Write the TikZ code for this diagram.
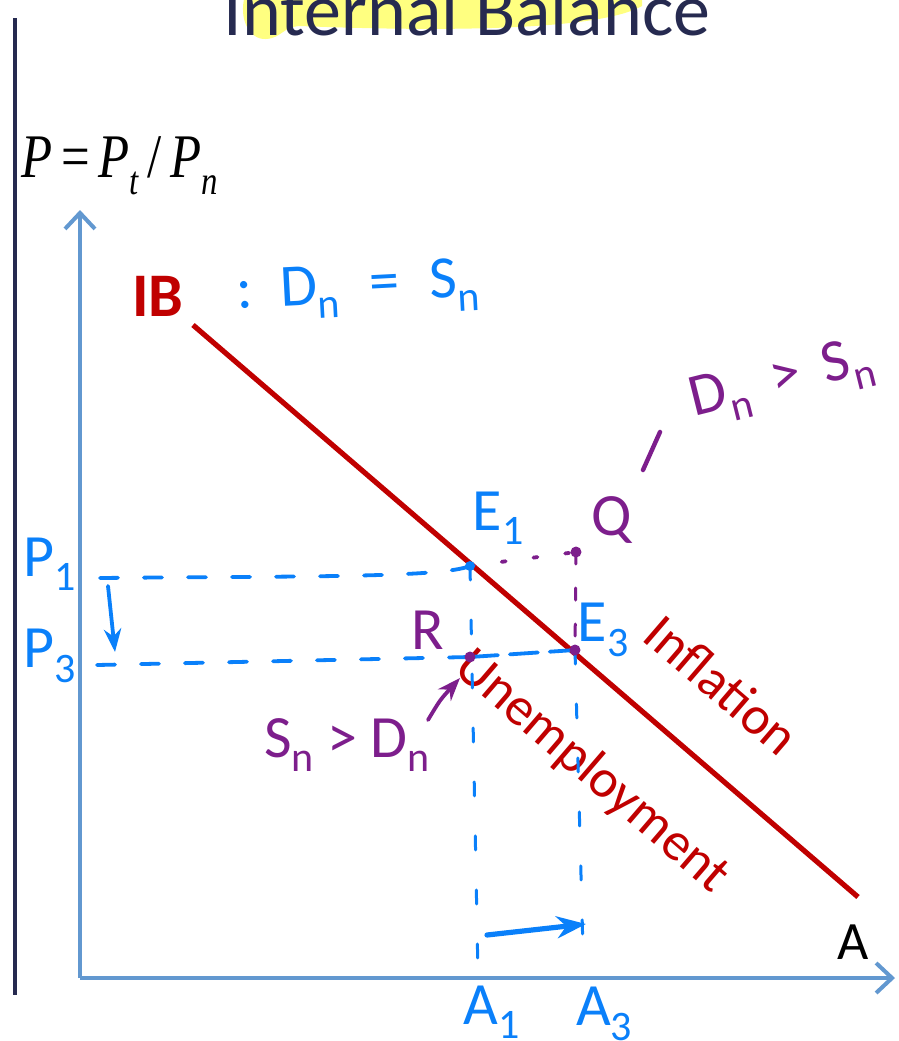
\documentclass[tikz,border=0pt]{standalone}
\usepackage{fontspec}
\setmainfont{Carlito}
\newfontfamily\timesit{Liberation Serif}[ItalicFont=* Italic]
\usetikzlibrary{arrows.meta,positioning,calc}
\definecolor{navy}{RGB}{38,42,80}
\definecolor{axisblue}{RGB}{98,152,208}
\definecolor{ibred}{RGB}{192,0,0}
\definecolor{penblue}{RGB}{10,128,250}
\definecolor{penpurple}{RGB}{125,30,140}
\definecolor{hilite}{RGB}{255,255,128}
\tikzset{>=Stealth}
\newcommand\pensub[1]{\raisebox{-0.5ex}{\fontsize{21}{21}\selectfont #1}}

\begin{document}
\begin{tikzpicture}[x=0.5pt, y=-0.5pt,
    axis/.style={draw=axisblue, line width=2pt, -{Straight Barb[length=8pt,width=15pt,line width=2pt]}},
    ibline/.style={draw=ibred, line width=2.6pt},
    pen/.style={draw=penblue, line width=1.9pt, line cap=round},
    dashpen/.style={pen, dash pattern=on 9pt off 13pt},
    vdashpen/.style={pen, line width=1.5pt, dash pattern=on 7pt off 20pt},
    purplepen/.style={draw=penpurple, line width=1.9pt, line cap=round},
    penlabel/.style={text=penblue, font=\fontsize{30}{30}\selectfont, inner sep=0pt},
    purplelabel/.style={text=penpurple, font=\fontsize{30}{30}\selectfont, inner sep=0pt},
    curvelabel/.style={text=ibred, font=\fontsize{27}{27}\selectfont, inner sep=0pt, rotate=-40.7}
  ]
    \clip (0,0) rectangle (899,1041);
    \fill[white] (0,0) rectangle (899,1041);

    % title with marker highlight
    \fill[hilite] (245,-5) .. controls (238,20) and (250,40) .. (266,39)
      .. controls (282,38) and (282,27) .. (300,26)
      .. controls (450,32) and (600,30) .. (642,6) -- (642,-5) -- cycle;
    \node[text=navy, font=\fontsize{37}{37}\selectfont, anchor=base, inner sep=0pt] (title) at (467,35) {Internal Balance};

    \coordinate (barTop) at (15,18);
    \coordinate (barBot) at (15,995);
    \draw[navy, line width=1.6pt] (barTop) -- (barBot);

    % axes
    \coordinate (O) at (80,978);
    \coordinate (yTop) at (80,210);
    \coordinate (xEnd) at (895,978);
    \draw[axis] (O) -- (yTop);
    \draw[axis] (O) -- (xEnd);
    \node[font=\timesit\fontsize{31}{31}\selectfont, inner sep=0pt, xscale=0.82] (ylab) at (120,166)
      {\textit{P}\,=\,\textit{P}\raisebox{-0.6ex}{\fontsize{20}{20}\selectfont\textit{t}}\,/\,\textit{P}\raisebox{-0.6ex}{\fontsize{20}{20}\selectfont\textit{n}}};
    \node[font=\fontsize{27}{27}\selectfont, inner sep=0pt] (xlab) at (853,942) {A};

    % internal balance schedule
    \coordinate (IBs) at (193,325);
    \coordinate (IBe) at (858,897);
    \draw[ibline] (IBs) -- (IBe);
    \node[text=ibred, font=\bfseries\fontsize{31}{31}\selectfont, inner sep=0pt] (IB) at (158,296) {IB};
    \node[penlabel, rotate=3] (cond) at (358,290) {:\, D\pensub{n}\; =\; S\pensub{n}};
    \node[curvelabel] (infl) at (722,685) {Inflation};
    \node[curvelabel] (unemp) at (592,772) {Unemployment};

    % points
    \coordinate (E1) at (470,566);
    \coordinate (Q) at (576,552);
    \coordinate (E3) at (575,650);
    \coordinate (R) at (470,657);
    \coordinate (P1s) at (100,578);
    \coordinate (P3s) at (97,665);
    \coordinate (A1f) at (478,975);
    \coordinate (A3f) at (583,950);

    \draw[dashpen] (P1s) .. controls (300,576) and (440,578) .. (E1);
    \draw[purplepen, dash pattern=on 2pt off 14pt] (E1) -- (Q);
    \draw[purplepen, line width=1.5pt, dash pattern=on 6pt off 12pt] (Q) -- (E3);
    \draw[dashpen] (P3s) -- (R);
    \draw[pen, dash pattern=on 14pt off 6pt] (R) -- (E3);
    \draw[vdashpen] (E1) -- (A1f);
    \draw[vdashpen] (E3) -- (A3f);

    \fill[penblue] (E1) circle (5);
    \fill[penpurple] (Q) circle (5.5);
    \fill[penpurple] (E3) circle (5.5);
    \fill[penpurple] (R) circle (5.5);

    % shifts
    \coordinate (pdA) at (108,586);
    \coordinate (pdB) at (115,652);
    \draw[pen, ->] (pdA) -- (pdB);
    \coordinate (arA) at (487,935);
    \coordinate (arB) at (586,924);
    \draw[pen, line width=2.6pt, ->] (arA) -- (arB);
    \coordinate (snA) at (428,720);
    \coordinate (snB) at (460,678);
    \draw[purplepen, ->] (snA) .. controls (440,700) .. (snB);
    \coordinate (slA) at (643,470);
    \coordinate (slB) at (660,432);
    \draw[purplepen, line width=2.2pt] (slA) -- (slB);

    % handwritten labels
    \node[penlabel] (P1) at (50,564) {P\pensub{1}};
    \node[penlabel] (P3) at (50,656) {P\pensub{3}};
    \node[penlabel] (E1l) at (498,518) {E\pensub{1}};
    \node[purplelabel] (Ql) at (612,520) {Q};
    \node[penlabel] (E3l) at (603,630) {E\pensub{3}};
    \node[purplelabel] (Rl) at (428,630) {R};
    \node[penlabel] (A1) at (492,1012) {A\pensub{1}};
    \node[penlabel] (A3) at (604,1014) {A\pensub{3}};
    \node[purplelabel] (snd) at (347,745) {S\pensub{n} > D\pensub{n}};
    \node[purplelabel, rotate=14] (dns) at (782,382) {D\pensub{n}\, >\, S\pensub{n}};
  \end{tikzpicture}
\end{document}
